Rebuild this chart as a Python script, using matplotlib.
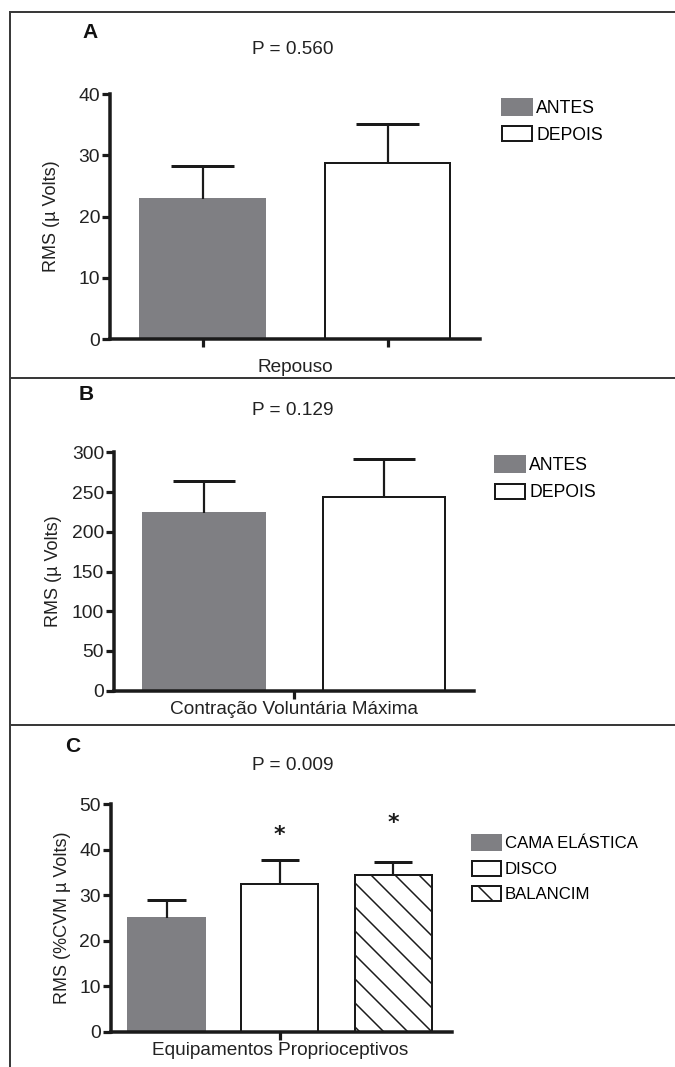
import matplotlib
matplotlib.use("Agg")
import matplotlib.pyplot as plt
from matplotlib.lines import Line2D
import numpy as np

# ---------------- data ----------------
group_labels = ["ANTES", "DEPOIS"]
repouso_mean = [22.8, 28.7]
repouso_err = [5.5, 6.35]
repouso_p = "P = 0.560"

cvm_mean = [223.0, 243.4]
cvm_err = [40.5, 48.2]
cvm_p = "P = 0.129"

equip_labels = ["CAMA ELÁSTICA", "DISCO", "BALANCIM"]
equip_mean = [25.0, 32.6, 34.4]
equip_err = [3.9, 5.1, 2.9]
equip_star = ["", "*", "*"]
equip_star_y = [np.nan, 43.3, 45.9]
equip_p = "P = 0.009"

yticks_a = [0, 10, 20, 30, 40]
yticks_b = [0, 50, 100, 150, 200, 250, 300]
yticks_c = [0, 10, 20, 30, 40, 50]

# ---------------- style ----------------
DPI = 144
W, H = 675, 1067
FONT = ["Liberation Sans Narrow", "Liberation Sans", "DejaVu Sans"]
plt.rcParams["font.family"] = FONT
plt.rcParams["hatch.linewidth"] = 0.75

GRAY = "#7f7f83"
INK = "#1a1a1a"
TXT = "#222222"

fig = plt.figure(figsize=(W / DPI, H / DPI), dpi=DPI)


def fx(px):
    return px / W


def fy(py):
    return 1 - py / H


def style_axes(ax, ymax, yticks):
    ax.set_ylim(0, ymax)
    ax.set_yticks(yticks)
    for s in ["top", "right"]:
        ax.spines[s].set_visible(False)
    for s in ["left", "bottom"]:
        ax.spines[s].set_linewidth(1.75)
        ax.spines[s].set_color(INK)
    ax.tick_params(axis="both", direction="out", length=4, width=1.6,
                   color=INK, labelsize=9.6, pad=1.0, labelcolor=TXT)


def draw_bars(ax, means, errs, labels, faces, edges, hatches, width):
    x = np.arange(len(means))
    means = np.asarray(means, dtype=float)
    errs = np.asarray(errs, dtype=float)
    bars = []
    for i in range(len(means)):
        b = ax.bar(x[i], means[i], width=width, color=faces[i], edgecolor=edges[i],
                   linewidth=1.0, hatch=hatches[i], label=labels[i], zorder=2)
        bars.append(b)
    # one-sided (upper) error bars: stem + cap (cap = half the bar width)
    ax.vlines(x, means, means + errs, color=INK, lw=1.1, zorder=3)
    ax.hlines(means + errs, x - width / 4, x + width / 4, color=INK, lw=1.5, zorder=3)
    return x, bars


def add_legend(ax, bars, left_px, top_px, spacing, fs):
    ax.legend(handles=bars, loc="upper left",
              bbox_to_anchor=(fx(left_px), fy(top_px)), bbox_transform=fig.transFigure,
              frameon=False, borderpad=0, borderaxespad=0, fontsize=fs,
              handlelength=1.7, handleheight=1.0, handletextpad=0.25,
              labelspacing=spacing)


# ---------------- Panel A ----------------
axA = fig.add_axes([fx(110), fy(339), 370 / W, 245 / H])
style_axes(axA, 40, yticks_a)
xA, barsA = draw_bars(axA, repouso_mean, repouso_err, group_labels,
                      [GRAY, "white"], [GRAY, INK], [None, None], 0.68)
axA.set_xlim(-0.5, 1.5)
axA.set_xticks(xA)
axA.set_xticklabels([])
axA.set_xlabel("Repouso", fontsize=9.5, color=TXT, va="top")
axA.xaxis.set_label_coords(0.5, -0.083)
axA.set_ylabel("RMS (µ Volts)", fontsize=9, color=TXT)
axA.yaxis.set_label_coords(-0.135, 0.5)
add_legend(axA, barsA, 502, 99, 0.5, 8.8)

# ---------------- Panel B ----------------
axB = fig.add_axes([fx(114), fy(690.7), 360 / W, 238.4 / H])
style_axes(axB, 300, yticks_b)
xB, barsB = draw_bars(axB, cvm_mean, cvm_err, group_labels,
                      [GRAY, "white"], [GRAY, INK], [None, None], 0.68)
axB.set_xlim(-0.5, 1.5)
axB.set_xticks([xB.mean()])
axB.set_xticklabels(["Contração Voluntária Máxima"], fontsize=9.5)
axB.set_ylabel("RMS (µ Volts)", fontsize=9, color=TXT)
axB.yaxis.set_label_coords(-0.144, 0.5)
add_legend(axB, barsB, 495, 456, 0.55, 8.8)

# ---------------- Panel C ----------------
axC = fig.add_axes([fx(111), fy(1032), 341 / W, 227.7 / H])
style_axes(axC, 50, yticks_c)
xC, barsC = draw_bars(axC, equip_mean, equip_err, equip_labels,
                      [GRAY, "white", "white"], [GRAY, INK, INK],
                      [None, None, "\\\\"], 0.68)
axC.set_xlim(-0.49, 2.52)
axC.set_xticks([xC[1]])
axC.set_xticklabels(["Equipamentos Proprioceptivos"], fontsize=9.5)
axC.set_ylabel("RMS (%CVM µ Volts)", fontsize=9, color=TXT)
axC.yaxis.set_label_coords(-0.117, 0.5)
for xi, s, sy in zip(xC, equip_star, equip_star_y):
    if s:
        axC.text(xi, sy, s, ha="center", va="center", fontsize=11,
                 fontweight="bold", color=INK, family="DejaVu Sans")
add_legend(axC, barsC, 472, 835, 0.55, 8.4)

# ---------------- titles / panel letters ----------------
for letter, (lx, ly) in zip(["A", "B", "C"], [(90, 32), (86, 395), (73, 747)]):
    fig.text(fx(lx), fy(ly), letter, ha="center", va="center", fontsize=10.5,
             fontweight="bold", family=["Liberation Sans", "DejaVu Sans"], color="#111111")
for ptxt, py in zip([repouso_p, cvm_p, equip_p], [50, 411, 765]):
    fig.text(fx(293), fy(py), ptxt, ha="center", va="center", fontsize=9.5,
             color=TXT)

# ---------------- panel frame lines ----------------
BORDER = "#3a3a3a"
fig.add_artist(Line2D([fx(10), fx(10)], [fy(12), fy(1067)], color=BORDER, lw=1.0,
                      transform=fig.transFigure))
for yy in [12, 378, 725]:
    fig.add_artist(Line2D([fx(10), fx(675)], [fy(yy), fy(yy)], color=BORDER, lw=1.0,
                          transform=fig.transFigure))

fig.savefig("out.png", dpi=DPI)
